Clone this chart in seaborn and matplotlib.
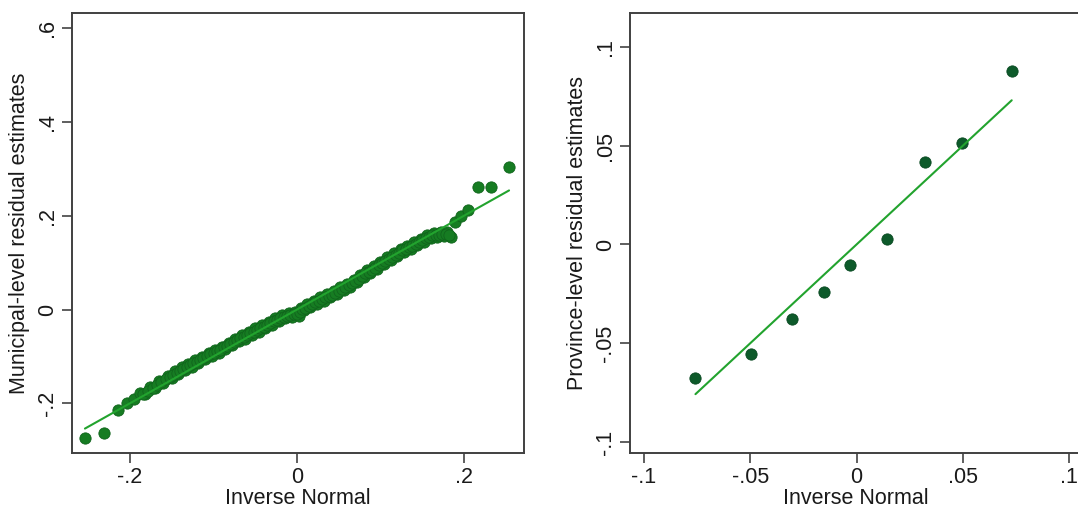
import matplotlib
matplotlib.use("Agg")
import matplotlib.pyplot as plt
import pandas as pd
import seaborn as sns

# Municipal-level residual estimates against inverse-normal quantiles
muni_x = [-0.254, -0.231, -0.214, -0.204, -0.195, -0.188, -0.182, -0.176, -0.170, -0.165,
          -0.160, -0.155, -0.150, -0.146, -0.142, -0.138, -0.134, -0.130, -0.126, -0.122,
          -0.118, -0.114, -0.110, -0.106, -0.102, -0.098, -0.094, -0.090, -0.086, -0.082,
          -0.078, -0.074, -0.070, -0.066, -0.062, -0.058, -0.054, -0.050, -0.046, -0.042,
          -0.038, -0.034, -0.030, -0.026, -0.022, -0.018, -0.014, -0.010, -0.006, -0.002,
          0.002, 0.005, 0.008, 0.012, 0.016, 0.020, 0.024, 0.028, 0.032, 0.036,
          0.040, 0.044, 0.048, 0.052, 0.056, 0.060, 0.064, 0.068, 0.072, 0.076,
          0.080, 0.084, 0.088, 0.092, 0.096, 0.100, 0.104, 0.108, 0.112, 0.116,
          0.120, 0.124, 0.128, 0.132, 0.136, 0.140, 0.144, 0.148, 0.152, 0.156,
          0.160, 0.164, 0.168, 0.172, 0.176, 0.180, 0.184, 0.189, 0.197, 0.205,
          0.217, 0.232, 0.254]
muni_y = [-0.275, -0.264, -0.214, -0.199, -0.190, -0.179, -0.181, -0.166, -0.168, -0.152,
          -0.157, -0.141, -0.147, -0.132, -0.138, -0.123, -0.130, -0.116, -0.122, -0.108,
          -0.115, -0.101, -0.106, -0.092, -0.099, -0.086, -0.093, -0.079, -0.084, -0.071,
          -0.076, -0.062, -0.068, -0.055, -0.062, -0.048, -0.054, -0.040, -0.047, -0.034,
          -0.040, -0.026, -0.032, -0.019, -0.025, -0.012, -0.019, -0.007, -0.016, -0.005,
          -0.013, 0.003, -0.002, 0.011, 0.005, 0.018, 0.012, 0.026, 0.019, 0.033,
          0.026, 0.039, 0.033, 0.047, 0.041, 0.055, 0.049, 0.063, 0.058, 0.074,
          0.069, 0.084, 0.078, 0.092, 0.087, 0.102, 0.097, 0.111, 0.106, 0.120,
          0.114, 0.129, 0.123, 0.136, 0.130, 0.143, 0.137, 0.151, 0.145, 0.159,
          0.152, 0.164, 0.155, 0.165, 0.156, 0.166, 0.155, 0.187, 0.199, 0.212,
          0.261, 0.262, 0.304]
# Dense middle of the band, where the markers overlap
muni_band_x = [-0.185, -0.179, -0.173, -0.1675, -0.1625, -0.1575, -0.1525, -0.148, -0.144, -0.140,
               -0.136, -0.132, -0.128, -0.124, -0.120, -0.116, -0.112, -0.108, -0.104, -0.100,
               -0.096, -0.092, -0.088, -0.084, -0.080, -0.076, -0.072, -0.068, -0.064, -0.060,
               -0.056, -0.052, -0.048, -0.044, -0.040, -0.036, -0.032, -0.028, -0.024, -0.020,
               -0.016, -0.012, -0.008, -0.004, 0.000, 0.0035, 0.0065, 0.010, 0.014, 0.018,
               0.022, 0.026, 0.030, 0.034, 0.038, 0.042, 0.046, 0.050, 0.054, 0.058,
               0.062, 0.066, 0.070, 0.074, 0.078, 0.082, 0.086, 0.090, 0.094, 0.098,
               0.102, 0.106, 0.110, 0.114, 0.118, 0.122, 0.126, 0.130, 0.134, 0.138,
               0.142, 0.146, 0.150, 0.154, 0.158, 0.162, 0.166, 0.170, 0.174, 0.178,
               0.182]
muni_band_y = [-0.180, -0.173, -0.167, -0.160, -0.155, -0.149, -0.144, -0.139, -0.135, -0.131,
               -0.126, -0.123, -0.119, -0.115, -0.111, -0.108, -0.103, -0.099, -0.095, -0.092,
               -0.089, -0.086, -0.081, -0.077, -0.073, -0.069, -0.065, -0.061, -0.058, -0.055,
               -0.051, -0.047, -0.043, -0.040, -0.037, -0.033, -0.029, -0.025, -0.022, -0.018,
               -0.015, -0.013, -0.011, -0.010, -0.009, -0.005, 0.001, 0.004, 0.008, 0.011,
               0.015, 0.019, 0.022, 0.026, 0.029, 0.032, 0.036, 0.040, 0.044, 0.048,
               0.052, 0.056, 0.060, 0.066, 0.071, 0.077, 0.081, 0.085, 0.089, 0.094,
               0.099, 0.104, 0.108, 0.113, 0.117, 0.121, 0.126, 0.129, 0.133, 0.136,
               0.140, 0.144, 0.148, 0.152, 0.155, 0.158, 0.160, 0.160, 0.161, 0.161,
               0.160]
muni_xticks = [-0.2, 0.0, 0.2]
muni_xticklabels = ["-.2", "0", ".2"]
muni_yticks = [-0.2, 0.0, 0.2, 0.4, 0.6]
muni_yticklabels = ["-.2", "0", ".2", ".4", ".6"]

# Province-level residual estimates against inverse-normal quantiles
prov_x = [-0.0758, -0.0499, -0.0303, -0.0154, -0.0032, 0.0141, 0.0321, 0.0494, 0.0730]
prov_y = [-0.0675, -0.0557, -0.0376, -0.0243, -0.0106, 0.0027, 0.0417, 0.0515, 0.0879]
prov_xticks = [-0.1, -0.05, 0.0, 0.05, 0.1]
prov_xticklabels = ["-.1", "-.05", "0", ".05", ".1"]
prov_yticks = [-0.1, -0.05, 0.0, 0.05, 0.1]
prov_yticklabels = ["-.1", "-.05", "0", ".05", ".1"]

sns.set_theme(style="ticks")
plt.rcParams["font.family"] = ["Liberation Sans", "DejaVu Sans"]

W, H = 1078, 513
fig = plt.figure(figsize=(W / 100, H / 100), dpi=100)
fig.patch.set_facecolor("white")

ax1 = fig.add_axes([72 / W, 60 / H, 452 / W, 440 / H])
ax2 = fig.add_axes([630 / W, 60 / H, 451 / W, 440 / H])

LINE = "#22a32e"
FS = 15.5


def qq_panel(ax, x, y, xlim, ylim, xticks, xticklabels, yticks, yticklabels, ylabel,
             face, edge):
    pts = pd.DataFrame({"q": x, "r": y})
    sns.scatterplot(data=pts, x="q", y="r", ax=ax, s=66, color=face,
                    edgecolor=edge, linewidth=0.6, zorder=2, legend=False)
    lo, hi = min(x), max(x)
    ref = pd.DataFrame({"q": [lo, hi], "r": [lo, hi]})
    sns.lineplot(data=ref, x="q", y="r", ax=ax, color=LINE, linewidth=1.5,
                 zorder=3, legend=False)
    ax.set_xlim(*xlim)
    ax.set_ylim(*ylim)
    ax.set_xticks(xticks)
    ax.set_xticklabels(xticklabels)
    ax.set_yticks(yticks)
    ax.set_yticklabels(yticklabels, rotation=90, va="center")
    ax.tick_params(direction="out", length=7, width=1.1, color="#333333",
                   labelcolor="#1a1a1a", labelsize=FS, pad=3)
    ax.set_xlabel("Inverse Normal", fontsize=FS, color="#1a1a1a", labelpad=0)
    ax.set_ylabel(ylabel, fontsize=FS, color="#1a1a1a", labelpad=5)
    ax.set_facecolor("white")
    for sp in ax.spines.values():
        sp.set_color("#404040")
        sp.set_linewidth(1.4)
        sp.set_visible(True)


qq_panel(ax1, muni_x + muni_band_x, muni_y + muni_band_y,
         (-0.2695, 0.2719), (-0.3061, 0.6325),
         muni_xticks, muni_xticklabels, muni_yticks, muni_yticklabels,
         "Municipal-level residual estimates", "#167c22", "#10641c")
qq_panel(ax2, prov_x, prov_y, (-0.1066, 0.1056), (-0.1056, 0.1172),
         prov_xticks, prov_xticklabels, prov_yticks, prov_yticklabels,
         "Province-level residual estimates", "#0d5a2a", "#0a4a22")

fig.savefig("out.png", dpi=100, facecolor="white")
